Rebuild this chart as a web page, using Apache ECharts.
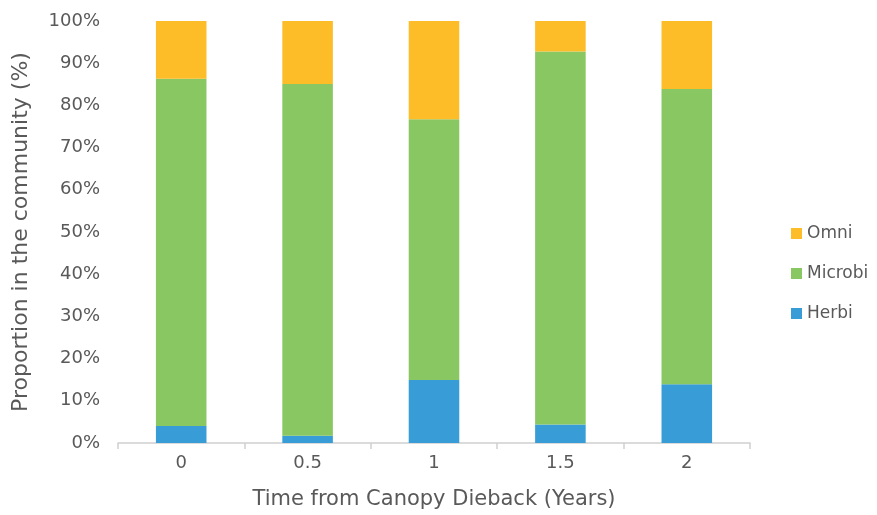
<!DOCTYPE html>
<html><head><meta charset="utf-8">
<script src="https://cdn.jsdelivr.net/npm/echarts@6/dist/echarts.min.js"></script>
<style>html,body{margin:0;padding:0;background:#fff}#c{width:877px;height:515px}</style>
</head><body><div id="c"></div>
<script>
const categories = ['0', '0.5', '1', '1.5', '2'];
const herbi = [4.0, 1.7, 14.9, 4.4, 13.9];
const microbi = [82.3, 83.4, 61.8, 88.4, 70.0];
const omni = [13.7, 14.9, 23.3, 7.2, 16.1];
const yTicks = [0, 10, 20, 30, 40, 50, 60, 70, 80, 90, 100];

const FONT = '"DejaVu Sans", sans-serif';
const TXT = '#595959';
const chart = echarts.init(document.getElementById('c'));
chart.setOption({
  animation: false,
  textStyle: { fontFamily: FONT },
  grid: { left: 118, right: 127, top: 21, bottom: 72, containLabel: false, outerBoundsMode: 'none' },
  legend: {
    orient: 'vertical', left: 786, top: 220, itemWidth: 11, itemHeight: 11, itemGap: 23, itemTextGap: 6,
    icon: 'rect', data: ['Omni', 'Microbi', 'Herbi'],
    textStyle: { fontFamily: FONT, fontSize: 17, color: TXT }
  },
  xAxis: {
    type: 'category', data: categories,
    name: 'Time from Canopy Dieback (Years)', nameLocation: 'middle', nameGap: 46,
    nameTextStyle: { fontFamily: FONT, fontSize: 21, color: TXT },
    axisLine: { lineStyle: { color: '#d0d0d0', width: 1.5 } },
    axisTick: { show: true, length: 6, lineStyle: { color: '#d0d0d0', width: 1.5 } },
    axisLabel: { fontFamily: FONT, fontSize: 18, color: TXT, margin: 11 }
  },
  yAxis: {
    type: 'value', min: yTicks[0], max: yTicks[yTicks.length - 1], interval: 10,
    name: 'Proportion in the community (%)', nameLocation: 'middle', nameGap: 86,
    nameTextStyle: { fontFamily: FONT, fontSize: 22, color: TXT },
    axisLine: { show: false }, axisTick: { show: false }, splitLine: { show: false },
    axisLabel: { fontFamily: FONT, fontSize: 18, color: TXT, margin: 18, formatter: '{value}%' }
  },
  series: [
    { name: 'Herbi', type: 'bar', stack: 's', data: herbi, barWidth: '40%', itemStyle: { color: '#389dd6' } },
    { name: 'Microbi', type: 'bar', stack: 's', data: microbi, itemStyle: { color: '#89c763' } },
    { name: 'Omni', type: 'bar', stack: 's', data: omni, itemStyle: { color: '#fdbd29' } }
  ]
});
</script></body></html>
